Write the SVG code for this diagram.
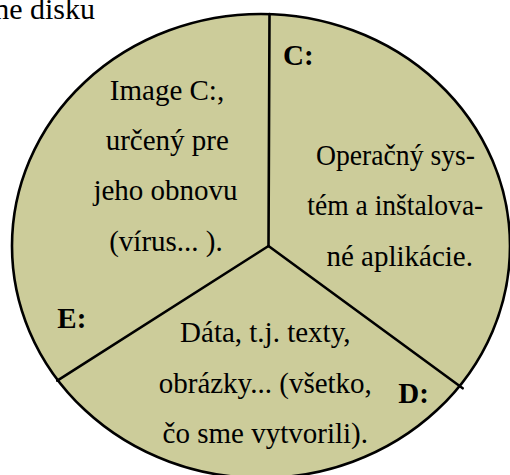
<svg xmlns="http://www.w3.org/2000/svg" width="510" height="475" viewBox="0 0 510 475">
  <style>
    .txt { font-family: "Liberation Serif", "Times New Roman", serif; font-size: 29px; fill: #000; text-anchor: middle; }
    .lbl { font-family: "Liberation Serif", "Times New Roman", serif; font-size: 29px; font-weight: bold; fill: #000; }
    .disk { fill: #cccc9a; stroke: #000; stroke-width: 2.6; }
    .div { stroke: #000; stroke-width: 2.6; fill: none; stroke-linecap: round; }
  </style>
  <rect width="510" height="475" fill="#ffffff"/>

  <!-- heading fragment -->
  <text x="95" y="18.5" style="font-family: 'Liberation Serif', 'Times New Roman', serif; font-size: 30px; text-anchor: end;">ne disku</text>

  <!-- disk body -->
  <g id="disk">
    <ellipse class="disk" cx="261" cy="246" rx="249" ry="232"/>
  </g>

  <!-- partition boundaries -->
  <g id="connectors">
    <line class="div" x1="269.5" y1="14" x2="268.5" y2="246"/>
    <line class="div" x1="268.5" y1="246" x2="57.3" y2="380.7"/>
    <line class="div" x1="268.5" y1="246" x2="462.7" y2="388.3"/>
  </g>

  <!-- partition C: -->
  <g id="part-c">
    <text class="lbl" x="283" y="64.5">C:</text>
    <text class="txt" x="395.5" y="164.5" textLength="159" lengthAdjust="spacingAndGlyphs">Operačný sys-</text>
    <text class="txt" x="395.3" y="215" textLength="176" lengthAdjust="spacingAndGlyphs">tém a inštalova-</text>
    <text class="txt" x="399.7" y="265.7">né aplikácie.</text>
  </g>

  <!-- partition E: -->
  <g id="part-e">
    <text class="lbl" x="57.3" y="328.3">E:</text>
    <text class="txt" x="167" y="100">Image C:,</text>
    <text class="txt" x="167.3" y="149.5">určený pre</text>
    <text class="txt" x="165.5" y="200">jeho obnovu</text>
    <text class="txt" x="166" y="250.5">(vírus... ).</text>
  </g>

  <!-- partition D: -->
  <g id="part-d">
    <text class="lbl" x="398.3" y="403.3">D:</text>
    <text class="txt" x="265.3" y="341.7">Dáta, t.j. texty,</text>
    <text class="txt" x="265.3" y="392.7">obrázky... (všetko,</text>
    <text class="txt" x="265.3" y="442.7">čo sme vytvorili).</text>
  </g>
</svg>
